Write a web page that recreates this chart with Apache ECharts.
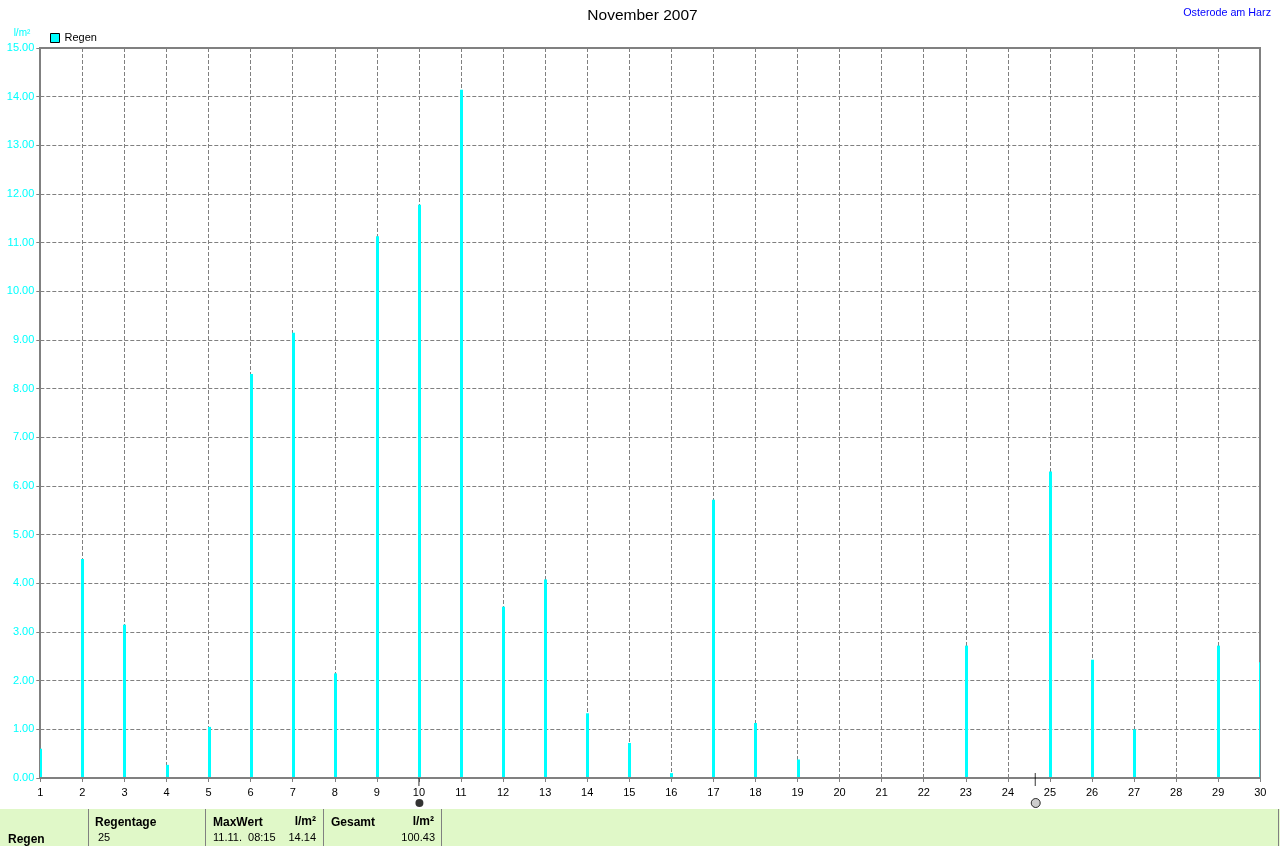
<!DOCTYPE html>
<html><head><meta charset="utf-8">
<style>html,body{margin:0;padding:0;background:#fff}#c{width:1280px;height:846px}</style>
<script src="https://cdn.jsdelivr.net/npm/echarts@6/dist/echarts.min.js"></script>
</head><body><div id="c"></div>
<script>
const days = [1,2,3,4,5,6,7,8,9,10,11,12,13,14,15,16,17,18,19,20,21,22,23,24,25,26,27,28,29,30];
const rain = [0.6,4.5,3.15,0.27,1.05,8.3,9.15,2.15,11.13,11.78,14.14,3.52,4.08,1.33,0.72,0.1,5.72,1.13,0.38,0,0,0,2.72,0,6.3,2.43,1.0,0,2.72,2.38];
const fullMoonDay = 10;
const newMoonDay = 24.65;
const FONT = '"Liberation Sans", Arial, sans-serif';
const panelColor = '#e0f8c8';
const panelLines = [88,205,323,441,1278];
const panelTexts = [
  ['Regen',8,840,true,'left'],['Regentage',95,823,true,'left'],['25',98,838,false,'left'],
  ['MaxWert',213,823,true,'left'],['l/m²',316,822,true,'right'],['11.11.  08:15',213,838,false,'left'],['14.14',316,838,false,'right'],
  ['Gesamt',331,823,true,'left'],['l/m²',434,822,true,'right'],['100.43',435,838,false,'right']
];
const chart = echarts.init(document.getElementById('c'),null,{renderer:'canvas'});
function renderBar(params, api){
  if(!api.value(1)) return null;
  const top = api.coord([api.value(0), api.value(1)]);
  const base = api.coord([api.value(0), 0]);
  const cs = params.coordSys;
  const x0 = Math.max(Math.round(top[0])-1, Math.round(cs.x));
  const x1 = Math.min(Math.round(top[0])+2, Math.round(cs.x+cs.width));
  return {type:'rect',shape:{x:x0,y:top[1],width:x1-x0,height:base[1]-1-top[1]},style:{fill:'#00ffff'}};
}
chart.setOption({
  animation:false,
  backgroundColor:'#fff',
  textStyle:{fontFamily:FONT},
  title:[
    {text:'November 2007',left:637.5,top:3,textAlign:'center',textStyle:{fontFamily:FONT,fontSize:15.5,fontWeight:'normal',color:'#000'}},
    {text:'Osterode am Harz',right:4,top:3,textStyle:{fontFamily:FONT,fontSize:10.75,fontWeight:'normal',color:'#0000ff'}}
  ],
  legend:{data:[{name:'Regen',icon:'rect'}],left:45,top:27.5,itemWidth:9,itemHeight:9,itemGap:4,
    textStyle:{fontFamily:FONT,fontSize:11,color:'#000',padding:[1,0,0,0]},selectedMode:false,
    itemStyle:{color:'#00ffff',borderColor:'#000',borderWidth:1}},
  grid:{left:40.3,right:19.7,top:48,height:730,show:false,containLabel:false},
  xAxis:{type:'value',min:1,max:30,interval:1,
    axisLine:{show:false},
    axisTick:{show:true,length:4,lineStyle:{color:'#808080',width:1}},
    axisLabel:{color:'#000',fontSize:11,fontFamily:FONT,margin:9,showMinLabel:true,showMaxLabel:true},
    splitLine:{show:true,lineStyle:{color:'#808080',type:[4,2],width:1}}},
  yAxis:{type:'value',min:0,max:15,interval:1,name:'l/m²',nameLocation:'end',nameGap:10,
    nameTextStyle:{color:'#00ffff',fontSize:10,fontFamily:FONT,align:'right',padding:[0,10,0,0]},
    axisLine:{show:false},
    axisTick:{show:true,length:4,lineStyle:{color:'#808080',width:1}},
    axisLabel:{color:'#00ffff',fontSize:11,fontFamily:FONT,margin:6,lineHeight:13,padding:[3,0,0,0],formatter:v=>v.toFixed(2),showMinLabel:true,showMaxLabel:true},
    splitLine:{show:true,lineStyle:{color:'#808080',type:[4,2],width:1}}},
  series:[
    {name:'Regen',type:'custom',renderItem:renderBar,clip:false,itemStyle:{color:'#00ffff'},
     encode:{x:0,y:1},data:days.map((d,i)=>[d,rain[i]]),z:3},
    {name:'Vollmond',type:'scatter',clip:false,silent:true,symbol:'rect',symbolSize:[1,8],symbolOffset:[0,4],
     itemStyle:{color:'#000'},data:[[fullMoonDay,0]],z:4},
    {name:'Vollmond2',type:'scatter',clip:false,silent:true,symbol:'circle',symbolSize:8,symbolOffset:[0.5,25],
     itemStyle:{color:'#000'},data:[[fullMoonDay,0]],z:4},
    {name:'Neumond',type:'scatter',clip:false,silent:true,symbol:'rect',symbolSize:[1,13],symbolOffset:[0,1.5],
     itemStyle:{color:'#000'},data:[[newMoonDay,0]],z:4},
    {name:'Neumond2',type:'scatter',clip:false,silent:true,symbol:'circle',symbolSize:9,symbolOffset:[0.5,25],
     itemStyle:{color:'#c0c0c0',borderColor:'#000',borderWidth:1},data:[[newMoonDay,0]],z:4}
  ],
  graphic:[
    {type:'rect',shape:{x:40,y:48,width:1220,height:730},style:{fill:'none',stroke:'#808080',lineWidth:2},silent:true,z:1},
    {type:'rect',shape:{x:0,y:809,width:1280,height:37},style:{fill:panelColor},silent:true,z:1},
    ...panelLines.map(x=>({type:'rect',shape:{x:x,y:809,width:1,height:37},style:{fill:'#808080'},silent:true,z:2})),
    ...panelTexts.map(t=>({type:'text',x:t[1],y:t[2],silent:true,z:3,
      style:{text:t[0],fill:'#000',textAlign:t[4],textVerticalAlign:'middle',
      font:(t[3]?'bold 12px ':'11px ')+FONT}}))
  ]
});
</script></body></html>
